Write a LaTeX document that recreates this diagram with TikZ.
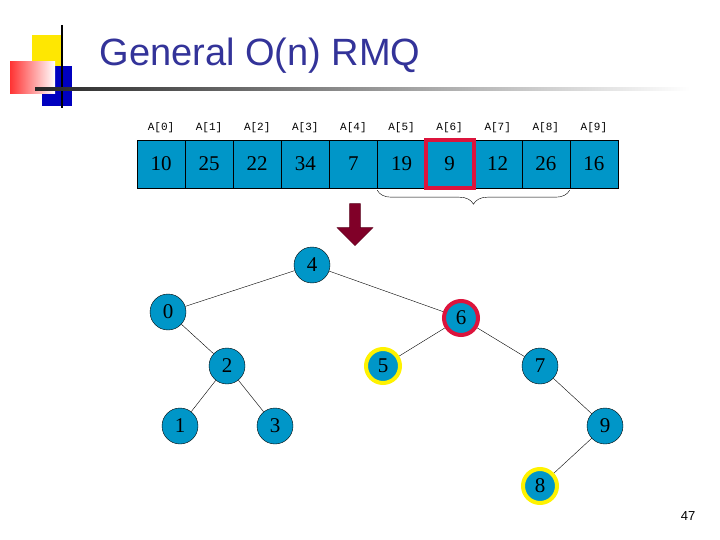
\documentclass[tikz,border=0pt]{standalone}
\usepackage{fontspec}
\setmainfont{Liberation Serif}
\setsansfont{Liberation Sans}
\setmonofont{Liberation Mono}
\usetikzlibrary{shapes.arrows,decorations.pathreplacing}
\definecolor{cellblue}{RGB}{0,150,200}
\definecolor{titleblue}{RGB}{51,51,153}
\definecolor{hired}{RGB}{220,20,60}
\definecolor{arrowred}{RGB}{128,0,40}
\tikzset{
  cell/.style={draw=black,fill=cellblue,minimum width=48.1pt,minimum height=48pt,inner sep=0pt,font=\fontsize{21}{21}\selectfont},
  idx/.style={font=\ttfamily\fontsize{11}{11}\selectfont},
  tnode/.style={circle,draw=black,fill=cellblue,minimum size=36pt,inner sep=0pt,font=\fontsize{21}{21}\selectfont},
  yel/.style={tnode,draw=yellow,line width=4pt,minimum size=34pt},
}
\begin{document}
\begin{tikzpicture}[x=1pt,y=-1pt]
    \useasboundingbox (0,0) rectangle (720,540);

    % Logo
    \fill[yellow!90!orange] (32,35) rectangle (62,66);
    \fill[blue!75!black] (42,66) rectangle (72,106);
    \shade[left color=red!80,right color=white] (10,62) rectangle (55,94);
    \draw[line width=1.5pt] (62,25) -- (62,108);
    \shade[left color=black!85,right color=white] (35,87.5) rectangle (690,91);

    % Title
    \node[anchor=west,text=titleblue,font=\sffamily\fontsize{38}{38}\selectfont] (title) at (96,56) {General O(n) RMQ};

    % Array
    \foreach \v [count=\i from 0] in {10,25,22,34,7,19,9,12,26,16} {
        \node[cell] (c\i) at (161+48.1*\i,164) {\v};
        \node[idx] (l\i) at (161+48.1*\i,128) {A[\i]};
    }
    \node[draw=hired,line width=4pt,minimum size=48pt] (sel) at (c6) {};

    % Brace
    \draw[decorate,decoration={brace,amplitude=14pt,mirror,raise=2pt}] (c5.south west) -- (c9.south west);

    % Block arrow
    \node[single arrow,shape border rotate=270,fill=arrowred,draw=arrowred!70!black,minimum width=36pt,single arrow head extend=10pt,minimum height=42pt,inner sep=4pt] (down) at (355,222) {};

    % Tree
    \node[tnode] (n4) at (312,265) {4};
    \node[tnode] (n0) at (168,312) {0};
    \node[tnode,draw=hired,line width=4pt,minimum size=34pt] (n6) at (461,318) {6};
    \node[tnode] (n2) at (227,366) {2};
    \node[yel] (n5) at (383,366) {5};
    \node[tnode] (n7) at (540,366) {7};
    \node[tnode] (n1) at (180,426) {1};
    \node[tnode] (n3) at (275,426) {3};
    \node[tnode] (n9) at (605,426) {9};
    \node[yel] (n8) at (540,486) {8};
    \foreach \a/\b in {n4/n0,n4/n6,n0/n2,n2/n1,n2/n3,n6/n5,n6/n7,n7/n9,n9/n8}
        \draw (\a) -- (\b);

    % Page number
    \node[font=\sffamily\fontsize{13}{13}\selectfont] (page) at (688,516) {47};
\end{tikzpicture}
\end{document}
